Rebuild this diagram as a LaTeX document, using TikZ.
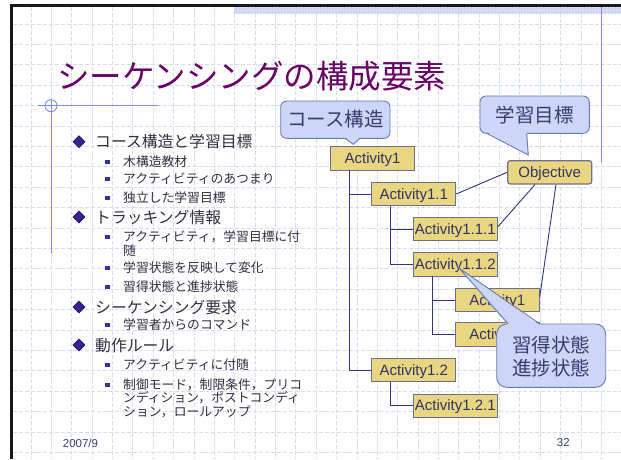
\documentclass[tikz,border=0pt]{standalone}
\usepackage{fontspec}
\setmainfont{Liberation Sans}
\newfontfamily\jp{Noto Sans CJK JP}
\usetikzlibrary{patterns}
\definecolor{gridc}{HTML}{D3DBF7}
\definecolor{bandc}{HTML}{C9D2F3}
\definecolor{decoc}{HTML}{7A8EEA}
\definecolor{titlec}{RGB}{104,0,102}
\definecolor{bodyc}{HTML}{303040}
\definecolor{diac}{HTML}{3A2090}
\definecolor{diad}{HTML}{1E0A55}
\definecolor{sqc}{HTML}{333399}
\definecolor{actfill}{HTML}{E8D680}
\definecolor{actline}{HTML}{6E6E8E}
\definecolor{acttext}{HTML}{333366}
\definecolor{connc}{HTML}{333380}
\definecolor{cfillc}{HTML}{CCD6F7}
\definecolor{clinec}{HTML}{6A78B4}
\definecolor{ctextc}{HTML}{3B3B6E}
\definecolor{footc}{HTML}{404080}
\begin{document}
\begin{tikzpicture}[x=1pt,y=-1pt,
  gridline/.style={draw=gridc,line width=0.8pt,dash pattern=on 4pt off 2pt},
  deco/.style={draw=decoc,line width=0.9pt},
  lone/.style={font=\jp\fontsize{15.8}{18}\selectfont,text=bodyc,inner sep=0pt,anchor=base west},
  ltwo/.style={font=\jp\fontsize{12.8}{15}\selectfont,text=bodyc,inner sep=0pt,anchor=base west},
  dia/.style={fill=diac,draw=diad,line width=0.5pt},
  sq/.style={fill=sqc},
  act/.style={draw=actline,fill=actfill,line width=0.9pt,minimum width=84pt,minimum height=23.3pt,
    inner sep=0pt,text height=13.6pt,text depth=3.2pt,font=\fontsize{15}{17}\selectfont,text=acttext},
  conn/.style={draw=connc,line width=0.9pt},
  cbody/.style={fill=cfillc,draw=clinec,line width=0.9pt},
  cline/.style={draw=clinec,line width=0.9pt},
  ctext/.style={font=\jp\fontsize{19.5}{22}\selectfont,text=ctextc,inner sep=0pt,anchor=base},
  foot/.style={font=\fontsize{11.5}{13}\selectfont,text=footc,inner sep=0pt}
]
\useasboundingbox (0,0) rectangle (621,459);
\fill[white] (0,0) rectangle (621,459);
% grid
\foreach \i in {0,...,28} \draw[gridline] ({31+20.37*\i},6.8) -- ({31+20.37*\i},459);
\foreach \j in {0,...,21} \draw[gridline] (13.3,{24+20.4*\j}) -- (621,{24+20.4*\j});
% top band
\fill[bandc] (234.3,6.8) rectangle (621,14);
\fill[pattern=crosshatch dots,pattern color=white] (234.3,6.8) rectangle (621,14);
% frame
\fill[black!90] (10,4) rectangle (13.3,459);
\fill[black!90] (10,4) rectangle (621,6.8);
% decorations
\draw[deco] (601.7,6.8) -- (601.7,161.7);
\draw[deco] (38.3,105.7) -- (157.7,105.7);
\draw[deco] (51,105.7) circle[radius=6pt];
\draw[deco] (51,99.7) -- (51,253);
% title
\node[font=\jp\fontsize{32.5}{36}\selectfont,text=titlec,inner sep=0pt,anchor=base west] (title) at (57,88) {シーケンシングの構成要素};
% bullets level 1
\foreach \yy in {141.7,217,307,345}
  \draw[dia] (79,{\yy-6}) -- (85,\yy) -- (79,{\yy+6}) -- (73,\yy) -- cycle;
\foreach \yy in {161.7,179,198,237,268,287,325,365,385}
  \fill[sq] (105.1,{\yy-2.2}) rectangle (109.5,{\yy+2.2});
\node[lone] (b1) at (95,147.7) {コース構造と学習目標};
\node[ltwo] (b11) at (123,166.6) {木構造教材};
\node[ltwo] (b12) at (123,183.9) {アクティビティのあつまり};
\node[ltwo] (b13) at (123,202.9) {独立した学習目標};
\node[lone] (b2) at (95,223) {トラッキング情報};
\node[ltwo] (b21) at (123,241.9) {アクティビティ，学習目標に付};
\node[ltwo] (b21b) at (123,255.9) {随};
\node[ltwo] (b22) at (123,272.9) {学習状態を反映して変化};
\node[ltwo] (b23) at (123,291.9) {習得状態と進捗状態};
\node[lone] (b3) at (95,313) {シーケンシング要求};
\node[ltwo] (b31) at (123,329.9) {学習者からのコマンド};
\node[lone] (b4) at (95,351) {動作ルール};
\node[ltwo] (b41) at (123,369.9) {アクティビティに付随};
\node[ltwo] (b42) at (123,389.9) {制御モード，制限条件，プリコ};
\node[ltwo] (b42b) at (123,402.9) {ンディション，ポストコンディ};
\node[ltwo] (b42c) at (123,416.9) {ション，ロールアップ};
% tree nodes
\node[act] (A1) at (372.5,158.3) {Activity1};
\node[act] (A11) at (413.7,194) {Activity1.1};
\node[act] (A111) at (455.3,229) {Activity1.1.1};
\node[act] (A112) at (455.3,264.3) {Activity1.1.2};
\node[act] (A1b) at (497.3,300) {Activity1};
\node[act] (A1c) at (497.3,334.3) {Activity1};
\node[act] (A12) at (413.7,370) {Activity1.2};
\node[act] (A121) at (455.3,405.7) {Activity1.2.1};
\node[act,rounded corners=2.5pt,line width=1.2pt] (Obj) at (549.7,172.3) {Objective};
% tree connectors
\draw[conn] ([xshift=19.3pt]A1.south west) |- (A12.west);
\draw[conn] ([xshift=19.3pt]A1.south west |- A11.west) -- (A11.west);
\draw[conn] ([xshift=19pt]A11.south west) |- (A112.west);
\draw[conn] ([xshift=19pt]A11.south west |- A111.west) -- (A111.west);
\draw[conn] ([xshift=20pt]A112.south west) |- (A1c.west);
\draw[conn] ([xshift=20pt]A112.south west |- A1b.west) -- (A1b.west);
\draw[conn] ([xshift=19pt]A12.south west) |- (A121.west);
% objective links
\draw[conn] (A11.east) -- (Obj.west);
\draw[conn] ([yshift=-10pt]A111.north east) -- ([xshift=-14.7pt]Obj.south);
\draw[conn] ([xshift=6.3pt]Obj.south) -- ([yshift=3.3pt]A1b.east);
% callout: course structure
\draw[cbody,rounded corners=6pt] (280.7,101) rectangle (390,138.3);
\fill[cfillc] (345,137) -- (353.3,144.3) -- (360,137) -- cycle;
\draw[cline] (345,138.3) -- (353.3,144.3) -- (360,138.3);
\node[ctext] (c1) at (335.3,126.9) {コース構造};
% callout: objective
\draw[cbody,rounded corners=6pt] (480,96) rectangle (589.3,133.3);
\fill[cfillc] (486.7,132) -- (528.3,155) -- (526.7,132) -- cycle;
\draw[cline] (486.7,133.3) -- (528.3,155) -- (526.7,133.3);
\node[ctext] (c2) at (534.7,122.1) {学習目標};
% callout: status
\draw[cbody,rounded corners=10pt] (496.7,324) rectangle (605.7,387.3);
\fill[cfillc] (508.3,325.3) -- (459.3,268.3) -- (540,325.3) -- cycle;
\draw[cline] (508.3,324) -- (459.3,268.3) -- (540,324);
\node[ctext] (c3a) at (551.2,352.6) {習得状態};
\node[ctext] (c3b) at (551.2,375.9) {進捗状態};
% footer
\node[foot,anchor=base west] (date) at (62.7,447.1) {2007/9};
\node[foot,anchor=base] (page) at (563.3,446.4) {32};
\end{tikzpicture}
\end{document}
